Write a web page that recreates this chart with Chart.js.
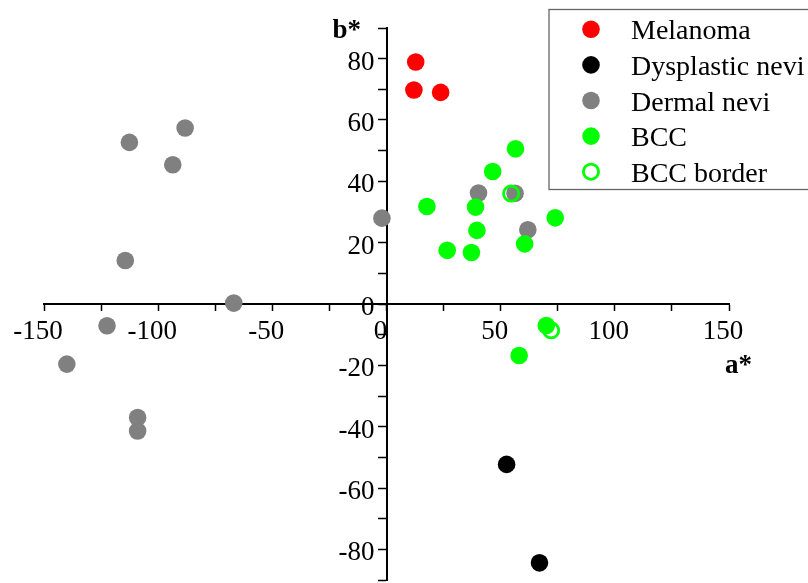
<!DOCTYPE html>
<html><head><meta charset="utf-8">
<script src="https://cdn.jsdelivr.net/npm/chart.js@4"></script>
<style>html,body{margin:0;padding:0;background:#fff;}#wrap{width:808px;height:583px;}</style>
</head><body><div id="wrap"><canvas id="c" width="808" height="583"></canvas></div>
<script>
const seriesNames = ['Melanoma', 'Dysplastic nevi', 'Dermal nevi', 'BCC', 'BCC border'];
const melanomaA = [12.8, 12.0, 23.7];
const melanomaB = [78.9, 69.8, 69.0];
const dysplasticA = [52.6, 67.0];
const dysplasticB = [-52.3, -84.4];
const dermalA = [-112.6, -88.2, -93.6, -114.4, -66.9, -2.0, -122.4, -140.0, -109.0, -109.0, 40.3, 56.3, 61.9];
const dermalB = [52.7, 57.4, 45.4, 14.2, 0.3, 28.0, -7.1, -19.6, -37.0, -41.4, 36.2, 36.1, 24.2];
const bccA = [56.5, 46.5, 17.7, 39.0, 39.6, 26.6, 37.2, 60.5, 73.9, 70.0, 58.1];
const bccB = [50.6, 43.2, 31.8, 31.6, 24.0, 17.5, 16.8, 19.6, 28.1, -7.0, -16.8];
const bccBorderA = [54.6, 72.1];
const bccBorderB = [36.0, -8.6];
const xTickLabels = [-150, -100, -50, 0, 50, 100, 150];
const yTickLabels = [-80, -60, -40, -20, 0, 20, 40, 60, 80];
const xAxisTitle = 'a*';
const yAxisTitle = 'b*';

function pts(a, b) { return a.map((v, i) => ({x: v, y: b[i]})); }

const FONT = '"Liberation Serif", "Times New Roman", serif';
const PAD = {left: 44, right: 79, top: 28, bottom: 3};

function zeroPad(s) { s.paddingLeft = 0; s.paddingRight = 0; s.paddingTop = 0; s.paddingBottom = 0; }

const extras = {
  id: 'extras',
  afterLayout(chart) {
    // keep the plot area exactly inside the layout padding
    const ca = chart.chartArea;
    const ys = chart.scales.y;
    const bottom = chart.height - PAD.bottom;
    const top = PAD.top;
    ca.top = top; ca.bottom = bottom; ca.height = bottom - top;
    ys.top = top; ys.bottom = bottom; ys.height = bottom - top;
    ys.configure();
  },
  beforeDraw(chart) {
    // move the y tick labels to the left of the centred axis
    const items = chart.scales.y.getLabelItems();
    if (!items._shifted) {
      items.forEach(it => { it.options.translation[0] -= 12; it.options.translation[1] += 2; });
      items._shifted = true;
    }
  },
  afterDraw(chart) {
    const ctx = chart.ctx;
    const xs = chart.scales.x, ys = chart.scales.y, ca = chart.chartArea;
    const x0 = xs.getPixelForValue(0), y0 = ys.getPixelForValue(0);
    ctx.save();
    ctx.fillStyle = '#000';
    ctx.font = 'bold 27px ' + FONT;
    ctx.textAlign = 'left';
    ctx.textBaseline = 'alphabetic';
    ctx.fillText(yAxisTitle, x0 - 54, ca.top + 10);
    ctx.fillText(xAxisTitle, ca.right - 4, y0 + 69);
    // legend
    ctx.strokeStyle = '#666';
    ctx.lineWidth = 1.3;
    ctx.strokeRect(549, 9.5, 300, 180);
    ctx.font = '28px ' + FONT;
    chart.data.datasets.forEach((ds, i) => {
      const cy = 29.3 + i * 35.6;
      ctx.beginPath();
      if (ds.hollow) {
        ctx.arc(591, cy, 7.6, 0, Math.PI * 2);
        ctx.strokeStyle = ds.borderColor;
        ctx.lineWidth = 2.8;
        ctx.stroke();
      } else {
        ctx.arc(591, cy, 8.8, 0, Math.PI * 2);
        ctx.fillStyle = ds.backgroundColor;
        ctx.fill();
      }
      ctx.fillStyle = '#000';
      ctx.fillText(ds.label, 631, cy + 10);
    });
    ctx.restore();
  }
};

const filled = (label, data, color, order) => ({
  label, data, backgroundColor: color, borderColor: color, borderWidth: 0,
  pointRadius: 8.8, pointHoverRadius: 8.8, order
});

new Chart(document.getElementById('c'), {
  type: 'scatter',
  data: {
    datasets: [
      filled(seriesNames[0], pts(melanomaA, melanomaB), '#ff0000', 5),
      filled(seriesNames[1], pts(dysplasticA, dysplasticB), '#000000', 4),
      filled(seriesNames[2], pts(dermalA, dermalB), '#808080', 3),
      filled(seriesNames[3], pts(bccA, bccB), '#00ff00', 2),
      {label: seriesNames[4], data: pts(bccBorderA, bccBorderB), hollow: true,
       backgroundColor: 'rgba(0,0,0,0)', borderColor: '#00ff00', borderWidth: 2.8,
       pointRadius: 7.6, pointHoverRadius: 7.6, order: 1}
    ]
  },
  options: {
    responsive: false,
    animation: false,
    events: [],
    layout: {padding: PAD},
    plugins: {legend: {display: false}, tooltip: {enabled: false}, title: {display: false}},
    scales: {
      x: {
        type: 'linear', min: -150, max: 150, position: {y: 0},
        afterFit: zeroPad,
        ticks: {stepSize: 25, autoSkip: false, maxRotation: 0, color: '#000', padding: 6, labelOffset: -6,
          font: {family: FONT, size: 27},
          callback: v => xTickLabels.includes(v) ? String(v) : ''},
        grid: {drawOnChartArea: false, drawTicks: true, tickLength: 6, tickColor: '#000', tickWidth: 1.5},
        border: {display: true, color: '#000', width: 2}
      },
      y: {
        type: 'linear', min: -90, max: 90, position: {x: 0},
        afterFit: zeroPad,
        ticks: {stepSize: 10, autoSkip: false, color: '#000', padding: 0, labelOffset: 2,
          font: {family: FONT, size: 27},
          callback: v => yTickLabels.includes(v) ? String(v) : ''},
        grid: {drawOnChartArea: false, drawTicks: true, tickLength: 8, tickColor: '#000', tickWidth: 1.5},
        border: {display: true, color: '#000', width: 2}
      }
    }
  },
  plugins: [extras]
});
</script>
</body></html>
